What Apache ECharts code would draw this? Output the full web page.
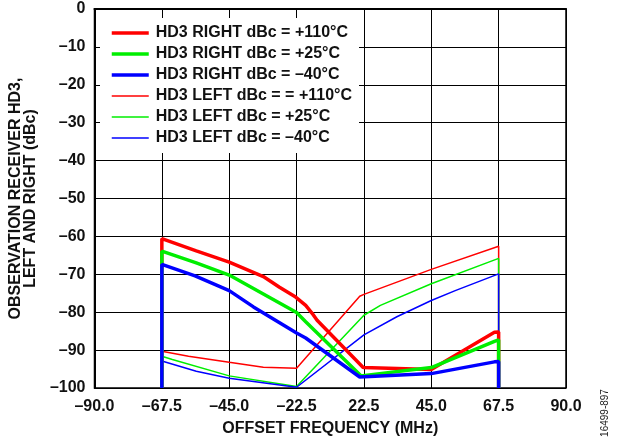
<!DOCTYPE html>
<html>
<head>
<meta charset="utf-8">
<script src="https://cdn.jsdelivr.net/npm/echarts@6/dist/echarts.min.js"></script>
<style>
html,body{margin:0;padding:0;background:#fff;}
#chart{width:621px;height:442px;}
</style>
</head>
<body>
<div id="chart"></div>
<script>
// X axis tick values (MHz) as printed on the reference (note: no 0 tick; equal spacing)
var xTickValues = [-90, -67.5, -45, -22.5, 22.5, 45, 67.5, 90];
var xTickLabels = ['\u201390.0', '\u201367.5', '\u201345.0', '\u201322.5', '22.5', '45.0', '67.5', '90.0'];
var yTickValues = [0, -10, -20, -30, -40, -50, -60, -70, -80, -90, -100];

var seriesNames = [
  'HD3 RIGHT dBc = +110\u00B0C',
  'HD3 RIGHT dBc = +25\u00B0C',
  'HD3 RIGHT dBc = \u201340\u00B0C',
  'HD3 LEFT dBc = = +110\u00B0C',
  'HD3 LEFT dBc = +25\u00B0C',
  'HD3 LEFT dBc = \u201340\u00B0C'
];

// [offset frequency MHz, dBc]
var rightHot = [[-67.5,-100],[-67.5,-60.6],[-56,-63.8],[-45,-66.8],[-33.6,-70.6],[-28.2,-73.4],[-22.8,-76.0],[-16.4,-78.2],[-12.1,-80.3],[-8.8,-82.1],[22,-94.6],[45,-95.1],[66.1,-85.3],[67.5,-85.2],[67.5,-100]];
var rightRoom = [[-67.5,-100],[-67.5,-63.9],[-56,-67.0],[-45,-70.2],[-22.5,-80.1],[-16.4,-82.5],[20.5,-96.8],[45,-94.6],[66.1,-87.7],[67.5,-87.3],[67.5,-100]];
var rightCold = [[-67.5,-100],[-67.5,-67.4],[-56.4,-70.4],[-45,-74.3],[-36.9,-78.6],[-22.5,-85.5],[-16.4,-86.8],[19.7,-97.1],[45,-96.2],[66.1,-93.1],[67.5,-93.0],[67.5,-100]];
var leftHot = [[-67.5,-100],[-67.5,-90.3],[-58.6,-91.6],[-45,-93.2],[-33.6,-94.5],[-22.5,-94.8],[19.7,-75.8],[22.5,-75.3],[45,-68.7],[67.5,-62.6],[67.5,-100]];
var leftRoom = [[-67.5,-100],[-67.5,-91.6],[-64,-92.5],[-45,-96.8],[-22.5,-99.6],[22.5,-80.8],[28,-78.2],[45,-72.5],[67.5,-65.8],[67.5,-100]];
var leftCold = [[-67.5,-100],[-67.5,-92.9],[-56,-95.6],[-45,-97.4],[-22.5,-99.8],[22.5,-86.0],[33.5,-81.2],[45,-76.9],[53,-74.3],[67.5,-69.9],[67.5,-100]];

var seriesData = [rightHot, rightRoom, rightCold, leftHot, leftRoom, leftCold];
var seriesColors = ['#ff0000', '#00ee00', '#0000ff', '#ff0000', '#00ee00', '#0000ff'];
var seriesWidths = [3.5, 3.5, 3.5, 1.5, 1.5, 1.5];

// map MHz to the axis position of the printed (non-linear) tick scale
function toAxisPos(v) {
  for (var i = 0; i < xTickValues.length - 1; i++) {
    var a = xTickValues[i], b = xTickValues[i + 1];
    if (v <= b || i === xTickValues.length - 2) {
      return i + (v - a) / (b - a);
    }
  }
  return 0;
}

var FONT = "'Liberation Sans', Arial, Helvetica, sans-serif";

var series = seriesData.map(function (d, k) {
  return {
    name: seriesNames[k],
    type: 'line',
    data: d.map(function (p) { return [toAxisPos(p[0]), p[1]]; }),
    showSymbol: false,
    symbol: 'none',
    smooth: false,
    animation: false,
    z: 10 - (k < 3 ? 0 : 2),
    lineStyle: { color: seriesColors[k], width: seriesWidths[k] },
    itemStyle: { color: seriesColors[k] }
  };
});

var legendData = seriesNames.map(function (n, k) {
  return {
    name: n,
    itemStyle: { opacity: 0 },
    lineStyle: { color: seriesColors[k], width: seriesWidths[k] }
  };
});

var chart = echarts.init(document.getElementById('chart'), null, { renderer: 'canvas' });
chart.setOption({
  animation: false,
  backgroundColor: '#fff',
  grid: {
    left: 84, right: 55, top: 9, bottom: 48,
    show: true, borderColor: '#000', borderWidth: 1.5, backgroundColor: 'transparent'
  },
  legend: {
    orient: 'vertical',
    left: 100, top: 18,
    padding: [7, 7, 7, 10],
    backgroundColor: '#fff',
    itemWidth: 37, itemHeight: 14, itemGap: 5,
    textStyle: { fontFamily: FONT, fontWeight: 'bold', fontSize: 16, color: '#111', padding: [0, 0, 0, 2] },
    data: legendData,
    z: 20
  },
  xAxis: {
    type: 'value', min: 0, max: 7, interval: 1,
    axisLine: { show: true, lineStyle: { color: '#000', width: 2 } },
    axisTick: { show: false },
    splitLine: { show: true, lineStyle: { color: '#000', width: 1 } },
    axisLabel: {
      margin: 11, color: '#111', fontFamily: FONT, fontWeight: 'bold', fontSize: 16,
      formatter: function (v) { return xTickLabels[Math.round(v)]; }
    },
    name: 'OFFSET FREQUENCY (MHz)',
    nameLocation: 'middle', nameGap: 33,
    nameTextStyle: { color: '#111', fontFamily: FONT, fontWeight: 'bold', fontSize: 16 }
  },
  yAxis: {
    type: 'value', min: -100, max: 0, interval: 10,
    axisLine: { show: true, lineStyle: { color: '#000', width: 2 } },
    axisTick: { show: false },
    splitLine: { show: true, lineStyle: { color: '#000', width: 1 } },
    axisLabel: {
      margin: 9, color: '#111', fontFamily: FONT, fontWeight: 'bold', fontSize: 16,
      formatter: function (v) { return v < 0 ? '\u2013' + Math.abs(v) : String(v); }
    },
    name: 'OBSERVATION RECEIVER HD3,\nLEFT AND RIGHT (dBc)',
    nameLocation: 'middle', nameGap: 40, nameRotate: 90,
    nameTextStyle: { color: '#111', fontFamily: FONT, fontWeight: 'bold', fontSize: 16, lineHeight: 15 }
  },
  graphic: [{
    type: 'text', x: 605, y: 413, rotation: Math.PI / 2,
    style: { text: '16499-897', fill: '#222', font: "10px 'Liberation Sans', Arial, sans-serif", align: 'center', verticalAlign: 'middle' }
  }],
  series: series
});
</script>
</body>
</html>
